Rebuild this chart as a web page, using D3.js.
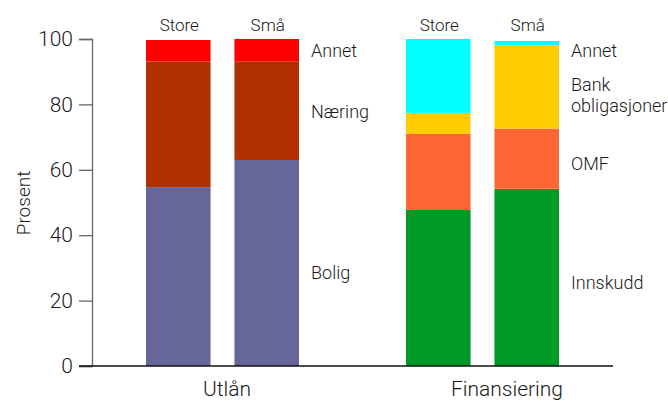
<!DOCTYPE html>
<html><head><meta charset="utf-8">
<script src="https://cdn.jsdelivr.net/npm/d3@7"></script>
<style>body{margin:0;background:#fff}svg{display:block}text{font-family:Roboto,"Liberation Sans",Arial,sans-serif;font-weight:300;fill:#1a1a1a}</style>
</head><body><svg id="c" width="668" height="401"></svg>
<script>
const groups = ["Utlån", "Finansiering"];
const barNames = ["Store", "Små"];
const yTicks = [0, 20, 40, 60, 80, 100];
// Utlån series (Store, Små)
const utlanKeys = ["Bolig", "Næring", "Annet"];
const utlanBolig = [54.7, 63.0];
const utlanNaering = [38.4, 30.2];
const utlanAnnet = [6.6, 6.8];
const utlanColors = ["#666699", "#b03000", "#ff0000"];
// Finansiering series (Store, Små)
const finKeys = ["Innskudd", "OMF", "Bank obligasjoner", "Annet"];
const finInnskudd = [47.7, 54.2];
const finOMF = [23.3, 18.4];
const finBank = [6.4, 25.6];
const finAnnet = [22.6, 1.2];
const finColors = ["#009a26", "#ff6633", "#ffcc00", "#00ffff"];

const svg = d3.select("#c");
const y = d3.scaleLinear().domain([0, 100]).range([366, 39]);
const xBar = d3.scaleBand().domain(barNames).range([0, 153]).paddingInner(0.27);
const groupStart = {"Utlån": 146, "Finansiering": 406};

function drawGroup(g, keys, series, colors, labelYs, labelLines) {
  const rows = barNames.map((b, i) => {
    const o = {bar: b};
    keys.forEach((k, j) => o[k] = series[j][i]);
    return o;
  });
  const stacked = d3.stack().keys(keys)(rows);
  const x0 = groupStart[g];
  stacked.forEach((layer, j) => {
    svg.append("g").selectAll("rect").data(layer).join("rect")
      .attr("x", d => x0 + xBar(d.data.bar))
      .attr("width", xBar.bandwidth())
      .attr("y", d => y(d[1]))
      .attr("height", d => y(d[0]) - y(d[1]))
      .attr("fill", colors[j]);
  });
  barNames.forEach(b => {
    svg.append("text").attr("x", x0 + xBar(b) + xBar.bandwidth() / 2 + 1).attr("y", 31)
      .attr("text-anchor", "middle").attr("font-size", 17).text(b);
  });
  const lx = x0 + 153 + 12;
  labelLines.forEach((lines, j) => {
    lines.forEach((t, k) => {
      svg.append("text").attr("x", lx).attr("y", labelYs[j] + k * 21)
        .attr("font-size", 18).text(t);
    });
  });
}

drawGroup("Utlån", utlanKeys, [utlanBolig, utlanNaering, utlanAnnet], utlanColors,
  [279, 118, 57], [["Bolig"], ["Næring"], ["Annet"]]);
drawGroup("Finansiering", finKeys, [finInnskudd, finOMF, finBank, finAnnet], finColors,
  [289, 170, 91, 57], [["Innskudd"], ["OMF"], ["Bank", "obligasjoner"], ["Annet"]]);

// y axis
const ya = svg.append("g").attr("transform", "translate(92,0)")
  .call(d3.axisLeft(y).tickValues(yTicks).tickSize(13).tickPadding(6).tickFormat(d3.format("d")));
ya.select(".domain").attr("stroke", "#666").attr("stroke-width", 1.3);
ya.selectAll(".tick line").attr("stroke", "#666").attr("stroke-width", 1.3);
ya.selectAll(".tick text").attr("font-size", 21).attr("font-family", "Roboto, Liberation Sans, Arial, sans-serif").attr("font-weight", 300).attr("fill", "#1a1a1a");

// baseline
svg.append("line").attr("x1", 79).attr("x2", 613).attr("y1", y(0)).attr("y2", y(0))
  .attr("stroke", "#111").attr("stroke-width", 1.5);

// group labels
const groupLabelX = {"Utlån": 227, "Finansiering": 507};
groups.forEach(g => {
  svg.append("text").attr("x", groupLabelX[g]).attr("y", 396).attr("text-anchor", "middle")
    .attr("font-size", 21).text(g);
});

svg.append("text").attr("transform", "translate(30,203) rotate(-90)").attr("text-anchor", "middle")
  .attr("font-size", 19).text("Prosent");
</script></body></html>
